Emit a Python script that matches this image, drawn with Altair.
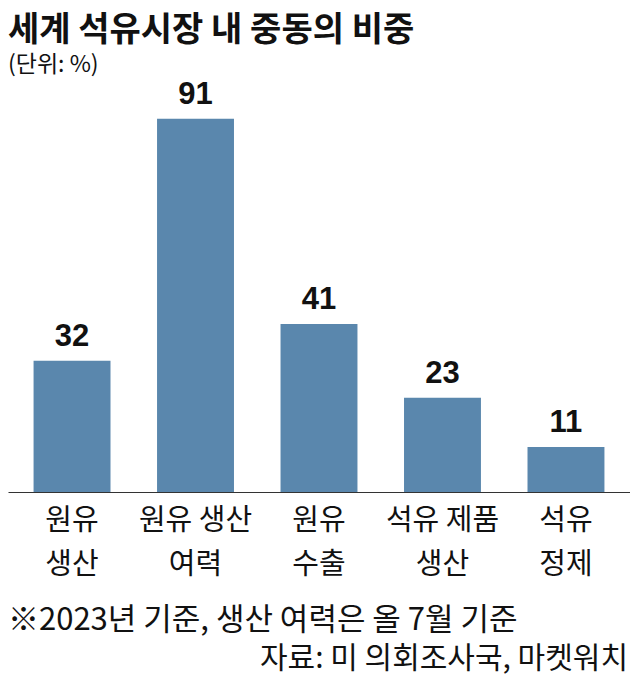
import altair as alt
import pandas as pd

categories = ["원유\n생산", "원유 생산\n여력", "원유\n수출", "석유 제품\n생산", "석유\n정제"]
values = [32, 91, 41, 23, 11]
title_text = "세계 석유시장 내 중동의 비중"
unit_text = "(단위: %)"
footnote_text = "※2023년 기준, 생산 여력은 올 7월 기준"
source_text = "자료: 미 의회조사국, 마켓워치"

df = pd.DataFrame({"category": categories, "value": values})
KR = "Noto Sans CJK KR"
NUM = "Liberation Sans, Arial, sans-serif"

x = alt.X("category:N", sort=categories,
          scale=alt.Scale(paddingInner=0.377, paddingOuter=0.207),
          axis=alt.Axis(title=None, labelAngle=0, labelFont=KR, labelFontSize=29,
                        labelColor="#111", labelPadding=14, labelLineHeight=44,
                        labelBaseline="top",
                        labelExpr="split(datum.value, '\\n')",
                        ticks=False, domainColor="#333", domainWidth=1.2))
y = alt.Y("value:Q", scale=alt.Scale(domain=[0, 95.6], nice=False), axis=None)

bars = alt.Chart(df).mark_bar(color="#5a87ad").encode(x=x, y=y)
labels = alt.Chart(df).mark_text(font=NUM, fontSize=31, fontWeight="bold",
                                 baseline="bottom", dy=-8, color="#111").encode(
    x=alt.X("category:N", sort=categories), y="value:Q", text="value:Q")

notes = pd.DataFrame({"t": [footnote_text]})
foot = alt.Chart(notes).mark_text(font=KR, fontSize=31, align="left", baseline="alphabetic",
                                  color="#111").encode(
    text="t:N", x=alt.value(0), y=alt.value(530))
src = alt.Chart(pd.DataFrame({"t": [source_text]})).mark_text(
    font=KR, fontSize=30, align="right", baseline="alphabetic", color="#111").encode(
    text="t:N", x=alt.value(620), y=alt.value(568))

chart = alt.layer(bars, labels, foot, src).properties(
    width=622, height=392,
    title=alt.TitleParams(title_text, subtitle=unit_text, anchor="start", frame="group",
                          font=KR, fontSize=34, fontWeight="bold", color="#111",
                          subtitleFont=KR, subtitleFontSize=23, subtitleColor="#111",
                          subtitlePadding=6, offset=2),
    autosize=alt.AutoSizeParams(type="none"),
    padding={"left": 0, "top": 92, "right": 0, "bottom": 186},
).configure_view(stroke=None)

chart.save("out.html", embed_options={"renderer": "svg", "actions": False})
